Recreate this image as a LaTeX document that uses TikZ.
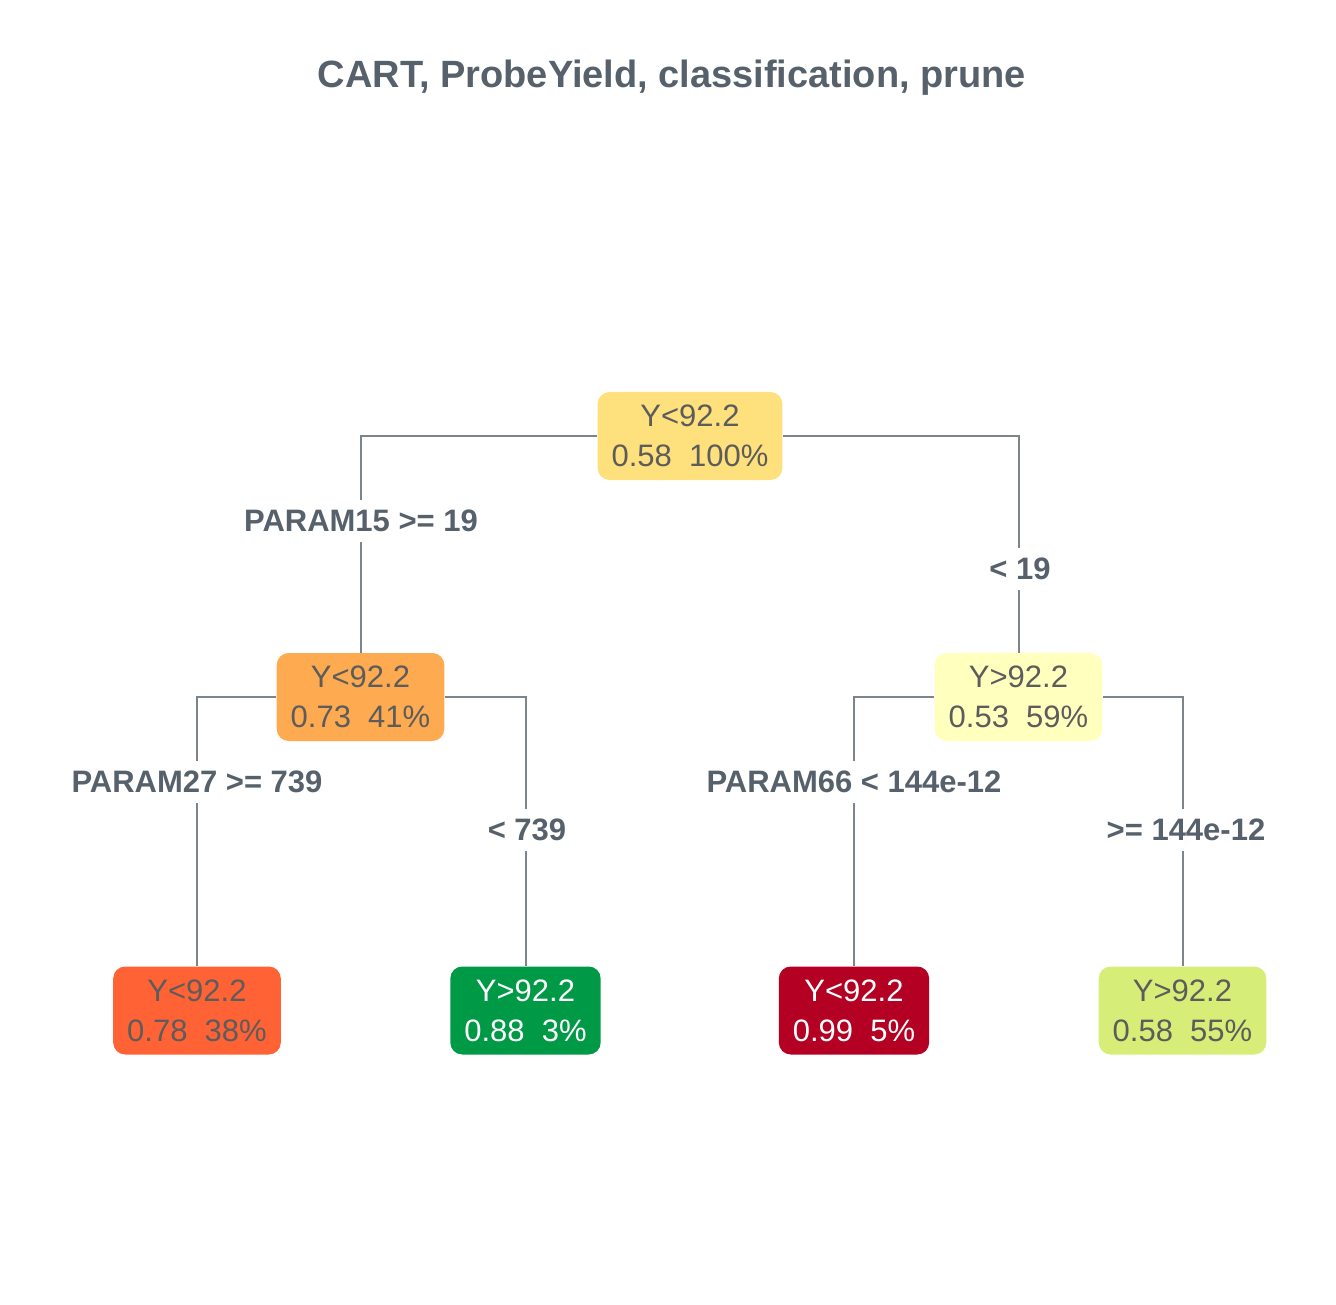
\documentclass[tikz,border=0pt]{standalone}
\usepackage{fontspec}
\setmainfont{Liberation Sans}
\usepackage{tikz}
\usetikzlibrary{positioning}
\definecolor{cinzaTitulo}{RGB}{86,97,107}
\definecolor{cinzaTexto}{RGB}{92,92,92}
\definecolor{cinzaRamo}{RGB}{125,133,140}
\definecolor{amareloRaiz}{RGB}{254,224,125}
\definecolor{laranjaNo}{RGB}{253,170,80}
\definecolor{amareloClaro}{RGB}{255,255,190}
\definecolor{laranjaFolha}{RGB}{255,98,52}
\definecolor{verdeFolha}{RGB}{0,154,70}
\definecolor{vermelhoFolha}{RGB}{180,0,35}
\definecolor{verdeClaro}{RGB}{214,238,120}
\tikzset{
  noarvore/.style={rectangle, rounded corners=6pt, draw=none,
                   minimum height=44pt, inner xsep=7pt, inner ysep=0pt,
                   align=center, text=cinzaTexto,
                   font=\fontsize{15.5}{20}\selectfont},
  ramo/.style={draw=cinzaRamo, line width=1pt},
  regra/.style={fill=white, inner xsep=1pt, inner ysep=5pt, text=cinzaTitulo,
                font=\fontsize{15.5}{18}\selectfont\bfseries},
}

\begin{document}
\begin{tikzpicture}[x=0.5pt, y=-0.5pt]
  \useasboundingbox (0,0) rectangle (1336,1304);

  \node[anchor=base, text=cinzaTitulo, font=\fontsize{19}{22}\selectfont\bfseries]
       (titulo) at (672,88) {CART, ProbeYield, classification, prune};

  \node[noarvore, fill=amareloRaiz] (raiz) at (690,436) {Y<92.2\\0.58\ \ 100\%};
  \node[noarvore, fill=laranjaNo] (esq) at (360.5,697) {Y<92.2\\0.73\ \ 41\%};
  \node[noarvore, fill=amareloClaro] (dir) at (1018.5,697) {Y>92.2\\0.53\ \ 59\%};

  \node[noarvore, fill=laranjaFolha] (f1) at (197,1010.5) {Y<92.2\\0.78\ \ 38\%};
  \node[noarvore, fill=verdeFolha, text=white] (f2) at (525.5,1010.5) {Y>92.2\\0.88\ \ 3\%};
  \node[noarvore, fill=vermelhoFolha, text=white] (f3) at (854,1010.5) {Y<92.2\\0.99\ \ 5\%};
  \node[noarvore, fill=verdeClaro] (f4) at (1182.5,1010.5) {Y>92.2\\0.58\ \ 55\%};

  \draw[ramo] (raiz.west) -| (esq.north);
  \draw[ramo] (raiz.east) -| (dir.north);
  \draw[ramo] (esq.west) -| (f1.north);
  \draw[ramo] (esq.east) -| (f2.north);
  \draw[ramo] (dir.west) -| (f3.north);
  \draw[ramo] (dir.east) -| (f4.north);

  \node[regra] (r15a) at (361,521) {PARAM15 >= 19};
  \node[regra] (r15b) at (1020,569) {< 19};
  \node[regra] (r27a) at (197,782) {PARAM27 >= 739};
  \node[regra] (r27b) at (527,830) {< 739};
  \node[regra] (r66a) at (854,782) {PARAM66 < 144e-12};
  \node[regra] (r66b) at (1186,830) {>= 144e-12};
\end{tikzpicture}
\end{document}
